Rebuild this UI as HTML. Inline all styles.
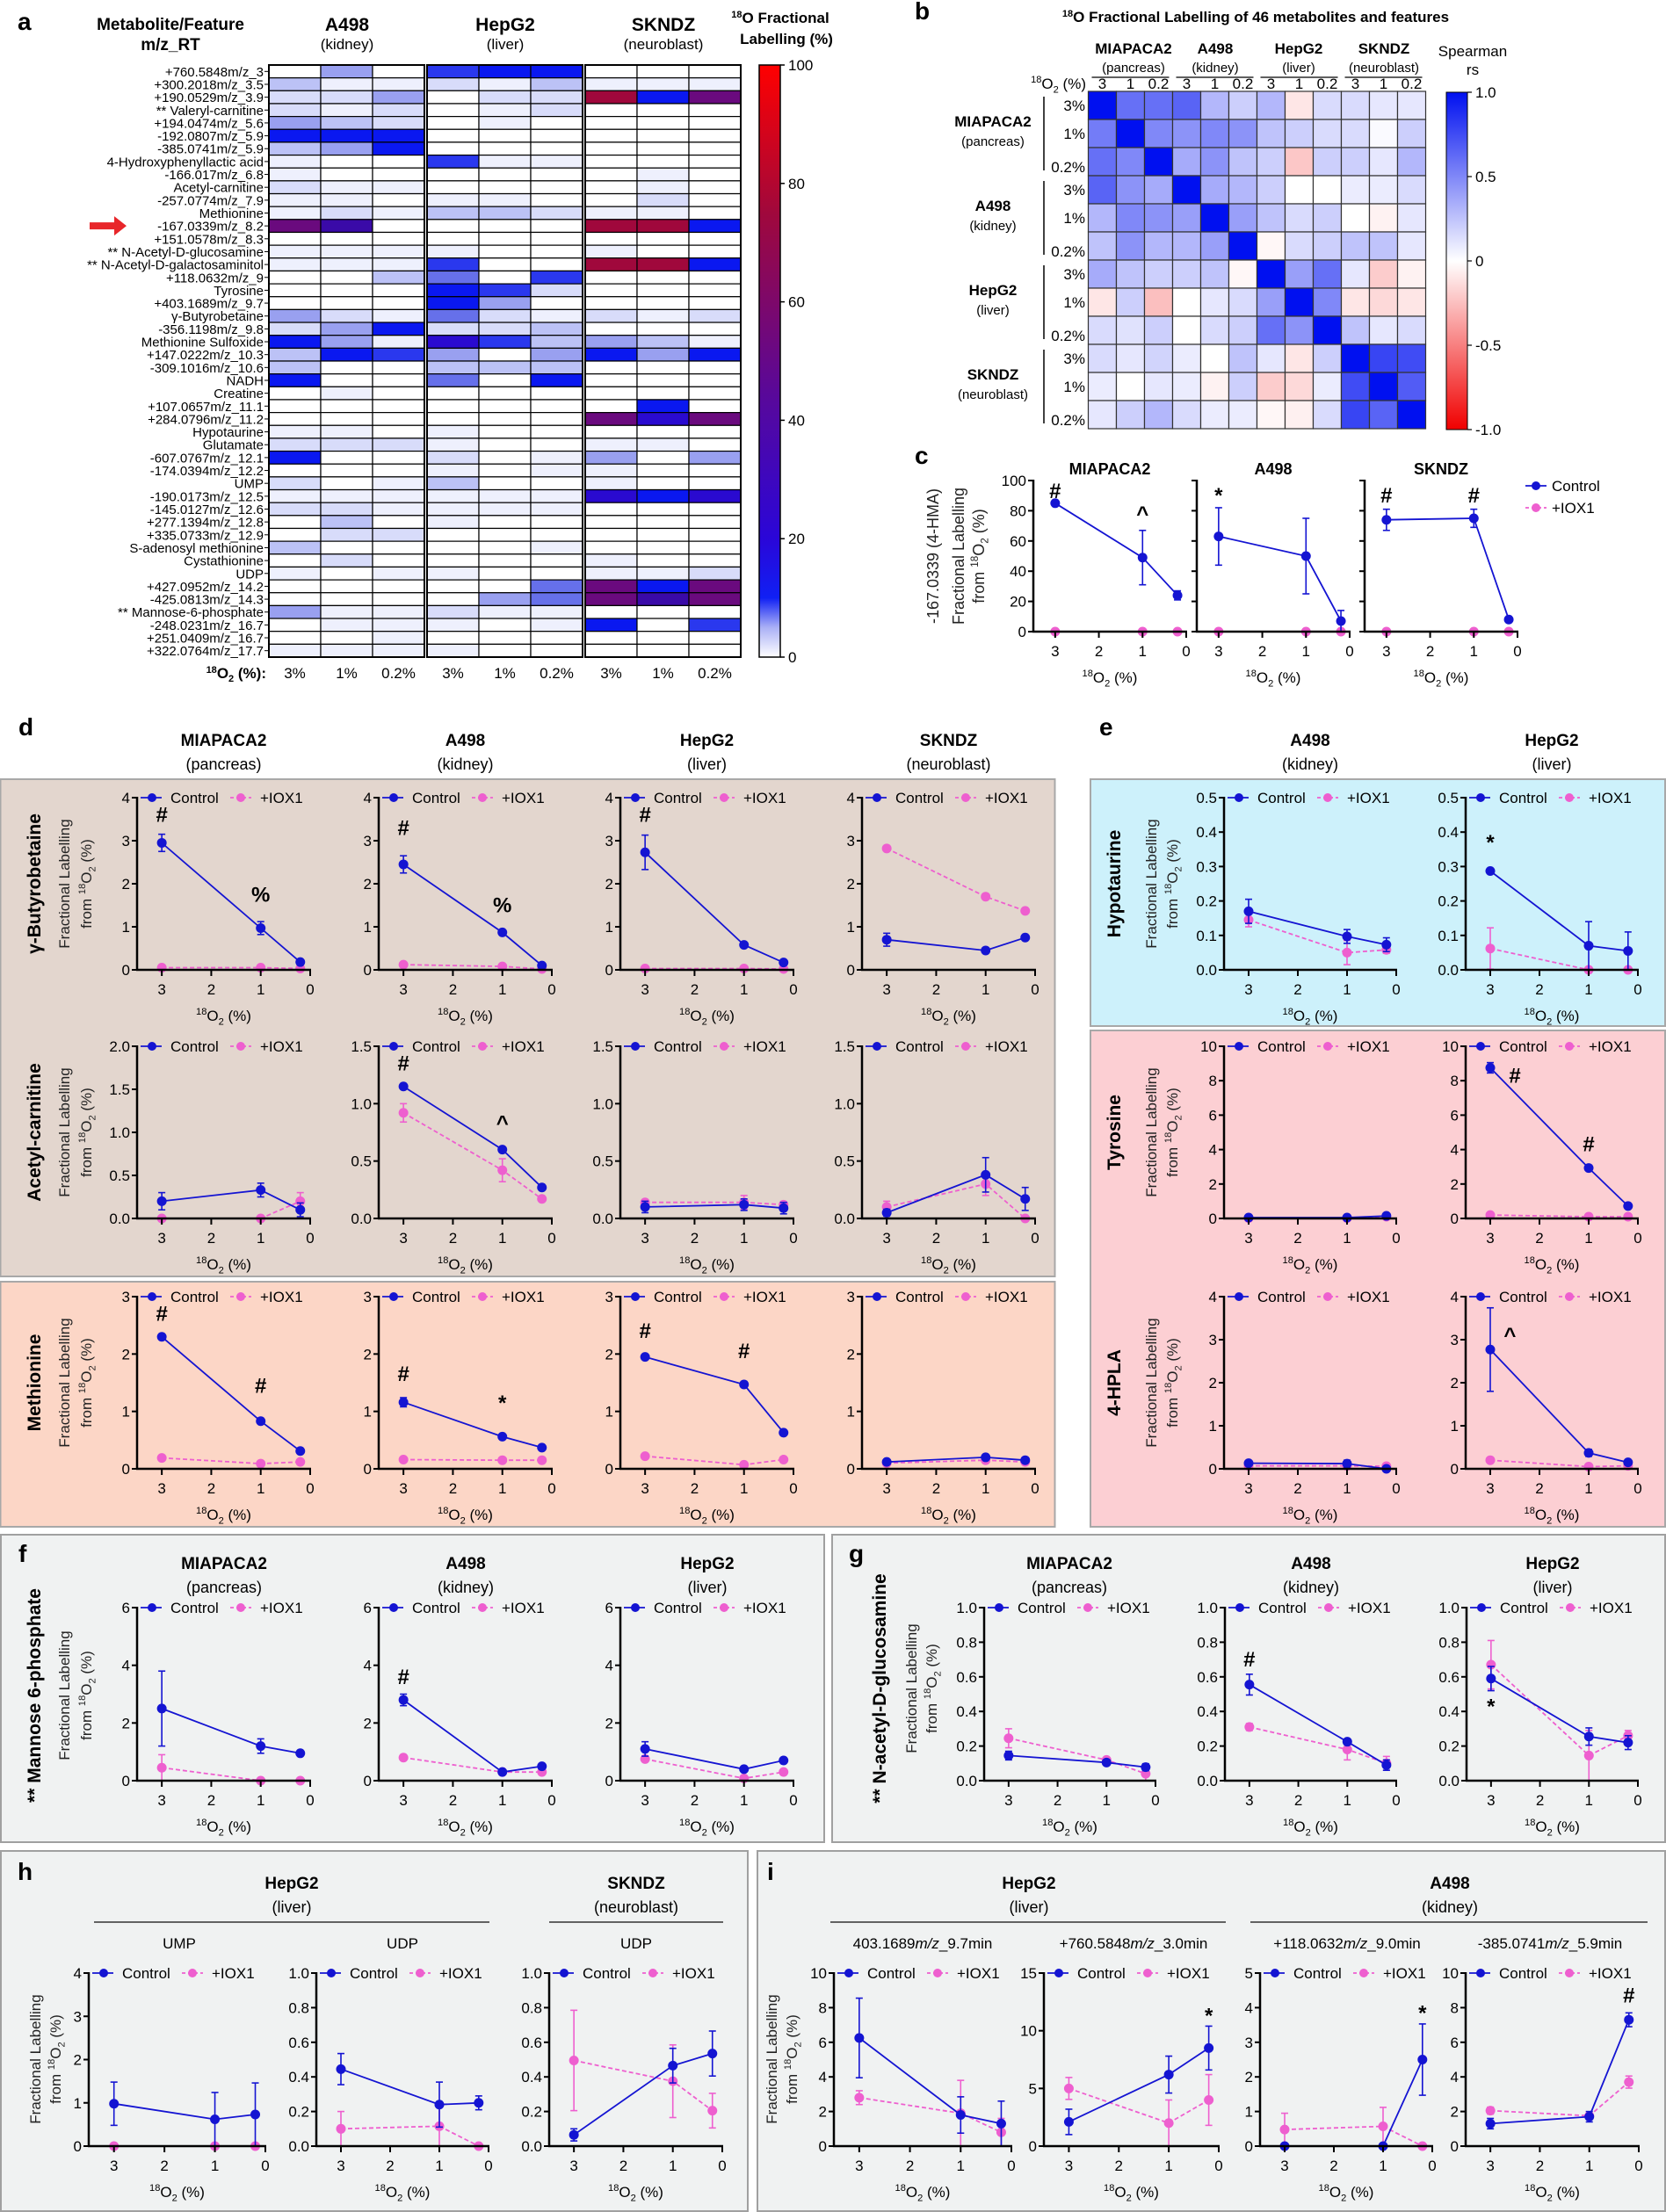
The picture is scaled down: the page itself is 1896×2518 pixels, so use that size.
<!DOCTYPE html>
<html><head><meta charset="utf-8"><style>
html,body{margin:0;padding:0;background:#fff}
svg{display:block;font-family:"Liberation Sans",Arial,sans-serif}
</style></head><body>
<svg id="s" xmlns="http://www.w3.org/2000/svg" width="1896" height="2518" viewBox="0 0 1896 2518">
<defs>
<linearGradient id="ga" x1="0" y1="1" x2="0" y2="0">
<stop offset="0" stop-color="#ffffff"/><stop offset="0.05" stop-color="#aab0f6"/><stop offset="0.1" stop-color="#1020f4"/><stop offset="0.2" stop-color="#2a06d8"/><stop offset="0.45" stop-color="#5a0898"/><stop offset="0.75" stop-color="#a0083c"/><stop offset="1" stop-color="#ff0000"/>
</linearGradient>
<linearGradient id="gb" x1="0" y1="1" x2="0" y2="0">
<stop offset="0" stop-color="#f00000"/><stop offset="0.5" stop-color="#ffffff"/><stop offset="1" stop-color="#0010f0"/>
</linearGradient>
</defs>
<g id="g"></g>
</svg>
<script>
const S=[];
function t(x,y,s,o){o=o||{};S.push(`<text x="${x}" y="${y}" font-size="${o.fs||17}" text-anchor="${o.a||'middle'}"${o.b?' font-weight="bold"':''}${o.fill?` fill="${o.fill}"`:''}${o.rot?` transform="rotate(-90 ${x} ${y})"`:''}>${s}</text>`);}
function l(x1,y1,x2,y2,c,w,d){S.push(`<line x1="${x1}" y1="${y1}" x2="${x2}" y2="${y2}" stroke="${c||'#000'}" stroke-width="${w||1}"${d?` stroke-dasharray="${d}"`:''}/>`);}
function r(x,y,w,h,f,s,sw){S.push(`<rect x="${x}" y="${y}" width="${w}" height="${h}" fill="${f}" stroke="${s||'none'}" stroke-width="${sw||1}"/>`);}
function c(x,y,rr,f){S.push(`<circle cx="${x}" cy="${y}" r="${rr}" fill="${f}"/>`);}
const O2=(fs)=>`<tspan font-size="${(fs*0.65).toFixed(1)}" dy="-${(fs*0.4).toFixed(1)}">18</tspan><tspan dy="${(fs*0.4).toFixed(1)}">O</tspan><tspan font-size="${(fs*0.65).toFixed(1)}" dy="${(fs*0.25).toFixed(1)}">2</tspan><tspan dy="-${(fs*0.25).toFixed(1)}"> (%)</tspan>`;
const BL='#1414d2',PK='#ee5fcf';

r(0.5,887,1200,566,'#e3d6ce','#a8a8a8',2);
r(0.5,1459,1200,279,'#fcd6c6','#a8a8a8',2);
r(1241,887,654,281,'#cdf1fb','#a8a8a8',2);
r(1241,1173,654,565,'#fccfd3','#a8a8a8',2);
r(1,1747,937,350,'#f0f2f2','#a0a0a0',2);
r(947,1747,948,350,'#f0f2f2','#a0a0a0',2);
r(1,2107,850,410,'#f0f2f2','#a0a0a0',2);
r(862,2107,1033,410,'#f0f2f2','#a0a0a0',2);

function ser(pts,X,Y,col,dash){
  let p=pts.map(q=>`${X(q[0]).toFixed(1)},${Y(q[1]).toFixed(1)}`).join(' ');
  S.push(`<polyline points="${p}" fill="none" stroke="${col}" stroke-width="1.8"${dash?` stroke-dasharray="${dash}"`:''}/>`);
  pts.forEach(q=>{ if(q[2]){const x=X(q[0]);l(x,Y(q[1]-q[2]),x,Y(q[1]+q[2]),col,1.6);l(x-4,Y(q[1]+q[2]),x+4,Y(q[1]+q[2]),col,1.6);l(x-4,Y(Math.max(0,q[1]-q[2])),x+4,Y(Math.max(0,q[1]-q[2])),col,1.6);}
    c(X(q[0]),Y(q[1]),5.5,col);});
}
function plot(ax,top,w,h,ymax,ticks,fmt,ctrl,iox,anns,leg){
  const X=v=>ax+(3.5-v)/3.5*w, Y=v=>top+h-v/ymax*h, bot=top+h;
  ser(iox,X,Y,PK,'5,3'); ser(ctrl,X,Y,BL,'');
  l(ax,top-1,ax,bot+1,'#000',2.5); l(ax-1,bot,ax+w+1,bot,'#000',2.5);
  ticks.forEach(v=>{l(ax-6,Y(v),ax,Y(v),'#000',2);t(ax-8,Y(v)+6,fmt(v),{a:'end',fs:17});});
  [3,2,1,0].forEach(v=>{l(X(v),bot,X(v),bot+7,'#000',2);t(X(v),bot+28,String(v),{fs:17});});
  t(ax+w/2,bot+58,O2(17),{fs:17});
  (anns||[]).forEach(a=>t(X(a[0]),Y(a[1])+8,a[2],{b:1,fs:24}));
  if(leg!==false){const y=top;l(ax+4,y,ax+28,y,BL,1.8);c(ax+17,y,5,BL);t(ax+38,y+6,'Control',{a:'start',fs:17});
    l(ax+106,y,ax+130,y,PK,1.8,'4,3');c(ax+118,y,5,PK);t(ax+140,y+6,'+IOX1',{a:'start',fs:17});}
}
const f0=v=>String(v), f1=v=>v.toFixed(1);
function ylab2(x1,x2,yc){t(x1,yc,'Fractional Labelling',{rot:1,fs:17,fill:'#222'});t(x2,yc,'from '+O2(17),{rot:1,fs:17,fill:'#222'});}

// ---------- panel a ----------
const HT=74,HB=748;
t(20,34,'a',{b:1,fs:28,a:'start'});
t(194,34,'Metabolite/Feature',{b:1,fs:19});t(194,57,'m/z_RT',{b:1,fs:19});
[['A498','(kidney)',395],['HepG2','(liver)',575],['SKNDZ','(neuroblast)',755]].forEach(q=>{t(q[2],35,q[0],{b:1,fs:21});t(q[2],56,q[1],{fs:17});});
t(888,26,'<tspan font-size="11" dy="-6">18</tspan><tspan dy="6">O Fractional</tspan>',{b:1,fs:17});
t(895,50,'Labelling (%)',{b:1,fs:17});
const rows=[
['+760.5848m/z_3','040677000'],['+300.2018m/z_3.5','311213111'],['+190.0529m/z_3.9','224022R7P'],['** Valeryl-carnitine','212012000'],
['+194.0474m/z_5.6','432010000'],['-192.0807m/z_5.9','777000000'],['-385.0741m/z_5.9','347000000'],['4-Hydroxyphenyllactic acid','100611000'],
['-166.017m/z_6.8','100000010'],['Acetyl-carnitine','211000010'],['-257.0774m/z_7.9','110110020'],['Methionine','121332110'],
['-167.0339m/z_8.2','PU0000RR7'],['+151.0578m/z_8.3','000000000'],['** N-Acetyl-D-glucosamine','111100100'],['** N-Acetyl-D-galactosaminitol','111600RR7'],
['+118.0632m/z_9','003506000'],['Tyrosine','000762000'],['+403.1689m/z_9.7','000740000'],['γ-Butyrobetaine','421521212'],
['-356.1198m/z_9.8','247223000'],['Methionine Sulfoxide','741863431'],['+147.0222m/z_10.3','376404747'],['-309.1016m/z_10.6','300333000'],
['NADH','700507000'],['Creatine','010000000'],['+107.0657m/z_11.1','000000070'],['+284.0796m/z_11.2','000000P8P'],
['Hypotaurine','110100000'],['Glutamate','222100110'],['-607.0767m/z_12.1','700201404'],['-174.0394m/z_12.2','000101100'],
['UMP','201300100'],['-190.0173m/z_12.5','111111878'],['-145.0127m/z_12.6','221111000'],['+277.1394m/z_12.8','030100000'],
['+335.0733m/z_12.9','022000000'],['S-adenosyl methionine','300001000'],['Cystathionine','020000100'],['UDP','101100112'],
['+427.0952m/z_14.2','000005P7P'],['-425.0813m/z_14.3','000045PUP'],['** Mannose-6-phosphate','411211000'],['-248.0231m/z_16.7','011101706'],
['+251.0409m/z_16.7','001000000'],['+322.0764m/z_17.7','111100000']];
const HC={'0':'#ffffff','1':'#eef0fd','2':'#d8dcfa','3':'#bcc2f6','4':'#99a0f0','5':'#6670ea','6':'#2a38ee','7':'#0a18f0','8':'#2a0ad0','U':'#3a0aa8','P':'#6a0a7e','R':'#a0083c'};
const rh=(HB-HT)/46, gx=[306,486,666], cw=59;
rows.forEach((q,i)=>{const y=HT+i*rh;
  t(300,y+rh/2+5.5,q[0],{a:'end',fs:15});l(301,y+rh/2,306,y+rh/2,'#000',1);
  for(let j=0;j<9;j++){r(gx[Math.floor(j/3)]+(j%3)*cw,y,cw,rh,HC[q[1][j]],'#000',1.2);} });
gx.forEach(x=>r(x,HT,cw*3,HB-HT,'none','#000',2));
const ay=HT+12.5*rh;
S.push(`<polygon points="102,${ay-4} 130,${ay-4} 130,${ay-11} 144,${ay} 130,${ay+11} 130,${ay+4} 102,${ay+4}" fill="#e8262a"/>`);
t(303,772,'<tspan font-size="11" dy="-6">18</tspan><tspan dy="6">O</tspan><tspan font-size="11" dy="4">2</tspan><tspan dy="-4"> (%):</tspan>',{a:'end',b:1,fs:17});
gx.forEach(x=>{['3%','1%','0.2%'].forEach((s,j)=>t(x+cw*j+cw/2,772,s,{fs:17}));});
r(864,HT,24,HB-HT,'url(#ga)','#000',1.5);
[100,80,60,40,20,0].forEach(v=>{const y=HB-v/100*(HB-HT);l(888,y,893,y,'#000',1.5);t(897,y+6,String(v),{a:'start',fs:17});});

// ---------- panel b ----------
t(1041,22,'b',{b:1,fs:28,a:'start'});
t(1429,25,'<tspan font-size="11" dy="-6">18</tspan><tspan dy="6">O Fractional Labelling of 46 metabolites and features</tspan>',{b:1,fs:17});
const B=[[1,.6,.6,.65,.3,.2,.3,-.1,.15,.15,.1,.1],[.55,1,.5,.45,.5,.45,.25,.2,.15,.15,.02,.2],[.6,.5,1,.35,.45,.25,.2,-.22,.2,.2,.1,.3],
[.65,.45,.35,1,.35,.3,.2,0,0,.08,.08,.15],[.3,.5,.45,.4,1,.4,.25,.15,.2,0,-.05,.1],[.25,.45,.3,.3,.4,1,-.03,.15,.2,.25,.25,.1],
[.35,.25,.2,.2,.25,-.03,1,.4,.6,.1,-.2,-.05],[-.1,.2,-.25,0,.1,.15,.4,1,.5,-.1,-.15,-.1],[.15,.12,.2,0,.15,.2,.6,.45,1,.25,.1,.15],
[.15,.1,.18,.08,0,.25,.1,-.1,.2,1,.78,.75],[.08,0,.1,.08,-.05,.2,-.2,-.15,.08,.75,1,.68],[.1,.2,.3,.15,.08,.08,-.03,-.06,.15,.78,.65,1]];
function bc(v){if(v>=0)return `rgb(${Math.round(255-255*v)},${Math.round(255-239*v)},${Math.round(255-15*v)})`;const a=-v;return `rgb(${Math.round(255-15*a)},${Math.round(255-255*a)},${Math.round(255-255*a)})`;}
const bx=1238.5,by=104,bs=32;
B.forEach((row,i)=>row.forEach((v,j)=>r(bx+j*bs,by+i*bs,bs,bs,bc(v),'#333',1.2)));
const grp=[['MIAPACA2','(pancreas)'],['A498','(kidney)'],['HepG2','(liver)'],['SKNDZ','(neuroblast)']];
const gcx=[1290,1383,1478,1575];
grp.forEach((g,k)=>{t(gcx[k],61,g[0],{b:1,fs:17});t(gcx[k],82,g[1],{fs:15});l(bx+k*96+4,88,bx+k*96+92,88,'#000',1.2);
  ['3','1','0.2'].forEach((s,j)=>t(bx+k*96+j*32+16,101,s,{fs:17}));
  t(1130,by+k*96+40,g[0],{b:1,fs:17});t(1130,by+k*96+62,g[1],{fs:15});l(1188,by+k*96+6,1188,by+k*96+90,'#000',1.5);
  ['3%','1%','0.2%'].forEach((s,j)=>t(1235,by+k*96+j*32+(j==2?28:22),s,{a:'end',fs:17}));});
t(1236,101,O2(17),{a:'end',fs:17});
r(1646,105,24,384,'url(#gb)','#000',1);
[[1,'1.0'],[.5,'0.5'],[0,'0'],[-.5,'-0.5'],[-1,'-1.0']].forEach(q=>{const y=297-q[0]*192;l(1670,y,1675,y,'#000',1.2);t(1679,y+6,q[1],{a:'start',fs:17});});
t(1676,64,'Spearman',{fs:17});t(1676,85,'rs',{fs:17});

// ---------- panel c ----------
t(1041,528,'c',{b:1,fs:28,a:'start'});
const ct=547,chh=172,cwid=174;
[['MIAPACA2',1176,[[3,85,0],[1,49,18],[.2,24,3]],[[3,93,'#'],[1,78,'^']]],['A498',1362,[[3,63,19],[1,50,25],[.2,7,7]],[[3,90,'*']]],['SKNDZ',1553,[[3,74,7],[1,75,6],[.2,8,0]],[[3,90,'#'],[1,90,'#']]]].forEach(q=>{
  plot(q[1],ct,cwid,chh,100,[0,20,40,60,80,100],q[1]==1176?f0:(v=>''),q[2],[[3,0],[1,0],[.2,0]],q[3],false);
  t(q[1]+cwid/2,540,q[0],{b:1,fs:18});});
t(1068,633,'-167.0339 (4-HMA)',{rot:1,fs:18,fill:'#222'});t(1097,633,'Fractional Labelling',{rot:1,fs:18,fill:'#222'});t(1120,633,'from '+O2(18),{rot:1,fs:18,fill:'#222'});
l(1736,553,1760,553,BL,1.8);c(1748,553,5,BL);t(1766,559,'Control',{a:'start',fs:17});
l(1736,578,1760,578,PK,1.8,'4,3');c(1748,578,5,PK);t(1766,584,'+IOX1',{a:'start',fs:17});

// ---------- panel d ----------
t(21,837,'d',{b:1,fs:28,a:'start'});
const dcx=[156,431,706,981], dw=197, dh=196;
[['MIAPACA2','(pancreas)'],['A498','(kidney)'],['HepG2','(liver)'],['SKNDZ','(neuroblast)']].forEach((g,k)=>{t(dcx[k]+dw/2,849,g[0],{b:1,fs:19});t(dcx[k]+dw/2,876,g[1],{fs:18});});
const io0=(a,b,cc)=>[[3,a],[1,b],[.2,cc]];
plot(156,908,dw,dh,4,[0,1,2,3,4],f0,[[3,2.95,.2],[1,.97,.15],[.2,.18,0]],io0(.05,.05,.03),[[3,3.6,'#'],[1,1.75,'%']]);
plot(431,908,dw,dh,4,[0,1,2,3,4],f0,[[3,2.45,.2],[1,.87,0],[.2,.1,0]],io0(.12,.08,.02),[[3,3.3,'#'],[1,1.5,'%']]);
plot(706,908,dw,dh,4,[0,1,2,3,4],f0,[[3,2.73,.4],[1,.58,0],[.2,.17,0]],io0(.03,.03,.02),[[3,3.6,'#']]);
plot(981,908,dw,dh,4,[0,1,2,3,4],f0,[[3,.7,.15],[1,.45,0],[.2,.75,0]],io0(2.82,1.7,1.37),[]);
plot(156,1191,dw,dh,2,[0,.5,1,1.5,2],f1,[[3,.2,.1],[1,.33,.08],[.2,.1,.08]],[[3,0],[1,0],[.2,.2,.1]],[]);
plot(431,1191,dw,dh,1.5,[0,.5,1,1.5],f1,[[3,1.15,0],[1,.6,0],[.2,.27,0]],[[3,.92,.08],[1,.42,.1],[.2,.17]],[[3,1.35,'#'],[1,.83,'^']]);
plot(706,1191,dw,dh,1.5,[0,.5,1,1.5],f1,[[3,.1,.05],[1,.12,.05],[.2,.09,.05]],[[3,.14],[1,.14,.06],[.2,.12]],[]);
plot(981,1191,dw,dh,1.5,[0,.5,1,1.5],f1,[[3,.05,.03],[1,.38,.15],[.2,.17,.1]],[[3,.1,.05],[1,.3,.1],[.2,.0]],[]);
plot(156,1476,dw,dh,3,[0,1,2,3],f0,[[3,2.3,0],[1,.83,0],[.2,.31,0]],io0(.19,.09,.12),[[3,2.7,'#'],[1,1.45,'#']]);
plot(431,1476,dw,dh,3,[0,1,2,3],f0,[[3,1.16,.08],[1,.56,0],[.2,.37,0]],io0(.16,.15,.15),[[3,1.65,'#'],[1,1.15,'*']]);
plot(706,1476,dw,dh,3,[0,1,2,3],f0,[[3,1.95,0],[1,1.47,.05],[.2,.63,0]],io0(.22,.07,.16),[[3,2.4,'#'],[1,2.05,'#']]);
plot(981,1476,dw,dh,3,[0,1,2,3],f0,[[3,.12,0],[1,.2,0],[.2,.15,0]],io0(.1,.15,.12),[]);
[['γ-Butyrobetaine',1006],['Acetyl-carnitine',1289],['Methionine',1574]].forEach(q=>{t(46,q[1],q[0],{b:1,rot:1,fs:21});ylab2(79,104,q[1]);});

// ---------- panel e ----------
t(1251,837,'e',{b:1,fs:28,a:'start'});
[['A498','(kidney)',1491],['HepG2','(liver)',1766]].forEach(g=>{t(g[2],849,g[0],{b:1,fs:19});t(g[2],876,g[1],{fs:18});});
plot(1393,908,196,dh,.5,[0,.1,.2,.3,.4,.5],f1,[[3,.17,.035],[1,.097,.02],[.2,.073,.02]],[[3,.145,.02],[1,.05,.035],[.2,.058,.01]],[]);
plot(1668,908,196,dh,.5,[0,.1,.2,.3,.4,.5],f1,[[3,.287,0],[1,.07,.07],[.2,.055,.055]],[[3,.062,.06],[1,0],[.2,0]],[[3,.37,'*']]);
plot(1393,1191,196,dh,10,[0,2,4,6,8,10],f0,[[3,.05,0],[1,.05,0],[.2,.15,0]],io0(.02,.02,.1),[]);
plot(1668,1191,196,dh,10,[0,2,4,6,8,10],f0,[[3,8.75,.3],[1,2.93,0],[.2,.72,0]],io0(.2,.1,.1),[[2.5,8.3,'#'],[1,4.3,'#']]);
plot(1393,1476,196,dh,4,[0,1,2,3,4],f0,[[3,.13,0],[1,.12,.08],[.2,0,0]],io0(.07,.07,.06),[]);
plot(1668,1476,196,dh,4,[0,1,2,3,4],f0,[[3,2.77,.97],[1,.37,.08],[.2,.15,0]],io0(.2,.05,.07),[[2.6,3.1,'^']]);
[['Hypotaurine',1006],['Tyrosine',1289],['4-HPLA',1574]].forEach(q=>{t(1275,q[1],q[0],{b:1,rot:1,fs:21});ylab2(1316,1340,q[1]);});

// ---------- panel f ----------
t(21,1778,'f',{b:1,fs:28,a:'start'});
[['MIAPACA2','(pancreas)',255],['A498','(kidney)',530],['HepG2','(liver)',805]].forEach(g=>{t(g[2],1786,g[0],{b:1,fs:19});t(g[2],1813,g[1],{fs:18});});
plot(156,1830,197,197,6,[0,2,4,6],f0,[[3,2.5,1.3],[1,1.2,.25],[.2,.95,0]],[[3,.45,.45],[1,0],[.2,0]],[]);
plot(431,1830,197,197,6,[0,2,4,6],f0,[[3,2.8,.2],[1,.3,0],[.2,.5,0]],io0(.8,.3,.3),[[3,3.6,'#']]);
plot(706,1830,197,197,6,[0,2,4,6],f0,[[3,1.1,.25],[1,.4,0],[.2,.7,0]],io0(.75,.08,.3),[]);
t(46,1930,'** Mannose 6-phosphate',{b:1,rot:1,fs:21});ylab2(79,104,1930);

// ---------- panel g ----------
t(966,1778,'g',{b:1,fs:28,a:'start'});
[['MIAPACA2','(pancreas)',1217],['A498','(kidney)',1492],['HepG2','(liver)',1767]].forEach(g=>{t(g[2],1786,g[0],{b:1,fs:19});t(g[2],1813,g[1],{fs:18});});
const g6=[0,.2,.4,.6,.8,1];
plot(1120,1830,195,197,1,g6,f1,[[3,.145,.025],[1,.105,.015],[.2,.078,.02]],[[3,.245,.055],[1,.12],[.2,.04,.04]],[]);
plot(1394,1830,195,197,1,g6,f1,[[3,.555,.06],[1,.225,0],[.2,.09,.03]],[[3,.31,.02],[1,.18,.06],[.2,.1,.04]],[[3,.7,'#']]);
plot(1669,1830,195,197,1,g6,f1,[[3,.59,.07],[1,.255,.05],[.2,.22,.04]],[[3,.67,.14],[1,.145,.145],[.2,.26,.03]],[[3,.43,'*']]);
t(1008,1922,'** N-acetyl-D-glucosamine',{b:1,rot:1,fs:21});ylab2(1043,1066,1922);

// ---------- panel h ----------
t(20,2140,'h',{b:1,fs:28,a:'start'});
t(332,2150,'HepG2',{b:1,fs:19});t(332,2177,'(liver)',{fs:18});l(107,2188,557,2188,'#333',1.5);
t(724,2150,'SKNDZ',{b:1,fs:19});t(724,2177,'(neuroblast)',{fs:18});l(625,2188,823,2188,'#333',1.5);
t(204,2218,'UMP',{fs:17});t(458,2218,'UDP',{fs:17});t(724,2218,'UDP',{fs:17});
plot(101,2246,201,197,4,[0,1,2,3,4],f0,[[3,.98,.5],[1,.62,.62],[.2,.73,.73]],io0(0,0,0),[]);
plot(360,2246,196,197,1,g6,f1,[[3,.445,.09],[1,.24,.13],[.2,.25,.04]],[[3,.1,.1],[1,.115,.115],[.2,0]],[]);
plot(625,2246,197,197,1,g6,f1,[[3,.065,.035],[1,.465,.1],[.2,.535,.13]],[[3,.495,.29],[1,.375,.21],[.2,.205,.1]],[]);
ylab2(46,69,2344);

// ---------- panel i ----------
t(873,2140,'i',{b:1,fs:28,a:'start'});
t(1171,2150,'HepG2',{b:1,fs:19});t(1171,2177,'(liver)',{fs:18});l(945,2188,1395,2188,'#333',1.5);
t(1650,2150,'A498',{b:1,fs:19});t(1650,2177,'(kidney)',{fs:18});l(1423,2188,1875,2188,'#333',1.5);
t(1050,2218,'403.1689<tspan font-style="italic">m/z</tspan>_9.7min',{fs:17});
t(1290,2218,'+760.5848<tspan font-style="italic">m/z</tspan>_3.0min',{fs:17});
t(1533,2218,'+118.0632<tspan font-style="italic">m/z</tspan>_9.0min',{fs:17});
t(1764,2218,'-385.0741<tspan font-style="italic">m/z</tspan>_5.9min',{fs:17});
const t10=[0,2,4,6,8,10];
plot(949,2246,202,197,10,t10,f0,[[3,6.25,2.3],[1,1.8,1.05],[.2,1.3,1.3]],[[3,2.8,.4],[1,1.9,1.9],[.2,.8,.8]],[]);
plot(1188,2246,199,197,15,[0,5,10,15],f0,[[3,2.1,1.1],[1,6.2,1.6],[.2,8.5,1.9]],[[3,5,.95],[1,2,2],[.2,4,2.2]],[[.2,11.3,'*']]);
plot(1434,2246,196,197,5,[0,1,2,3,4,5],f0,[[3,0,0],[1,0,0],[.2,2.5,1.03]],[[3,.48,.47],[1,.57,.55],[.2,0]],[[.2,3.85,'*']]);
plot(1668,2246,197,197,10,t10,f0,[[3,1.3,.3],[1,1.7,.3],[.2,7.3,.4]],[[3,2.05,.2],[1,1.75,0],[.2,3.7,.35]],[[.2,8.7,'#']]);
ylab2(884,907,2344);

document.getElementById('g').innerHTML=S.join('');
</script>
</body></html>
